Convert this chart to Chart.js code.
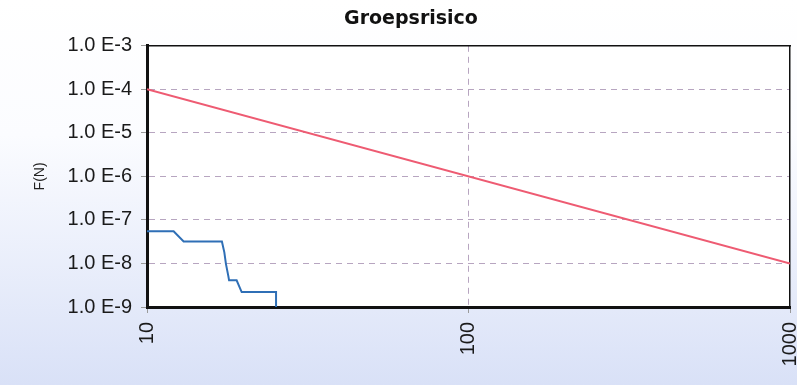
<!DOCTYPE html>
<html>
<head>
<meta charset="utf-8">
<script src="https://cdn.jsdelivr.net/npm/chart.js@4"></script>
<style>
  html, body { margin: 0; padding: 0; background: #ffffff; }
  #wrap { width: 797px; height: 385px; }
</style>
</head>
<body>
<div id="wrap"><canvas id="fn" width="797" height="385"></canvas></div>
<script>
// Tick values on both log axes
const xTickValues = [10, 100, 1000];
const yTickValues = [1e-9, 1e-8, 1e-7, 1e-6, 1e-5, 1e-4, 1e-3];

// Oriëntatiewaarde (norm line): F = 1e-2 / N^2
const normN = [10, 1000];
const normF = [1e-4, 1e-8];

// Calculated group risk curve
const riskN = [10, 12.1, 13, 17.1, 17.4, 17.6, 17.9, 18, 19, 19.7, 25.2, 25.2];
const riskF = [5.5e-8, 5.5e-8, 3.2e-8, 3.2e-8, 1.8e-8, 9.8e-9, 5.2e-9, 4.1e-9, 4.1e-9, 2.2e-9, 2.2e-9, 1e-9];

const toPoints = (xs, ys) => xs.map((x, i) => ({ x: x, y: ys[i] }));

const gridColor = 'rgba(175,155,185,0.9)';
const tickFont = { family: '"Liberation Sans", Arial, sans-serif', size: 20 };

// Page background gradient and white plot area
const backdrop = {
  id: 'backdrop',
  beforeDraw(chart) {
    const { ctx, width, height, chartArea: a } = chart;
    ctx.save();
    const g = ctx.createLinearGradient(0, 0, 0, height);
    g.addColorStop(0, '#ffffff');
    g.addColorStop(0.35, '#fbfcff');
    g.addColorStop(1, '#d9e1f7');
    ctx.fillStyle = g;
    ctx.fillRect(0, 0, width, height);
    ctx.fillStyle = '#ffffff';
    ctx.fillRect(a.left, a.top, a.right - a.left, a.bottom - a.top);
    ctx.restore();
  }
};

new Chart(document.getElementById('fn'), {
  type: 'line',
  data: {
    datasets: [
      {
        label: 'Oriëntatiewaarde',
        data: toPoints(normN, normF),
        borderColor: '#ee5b72',
        borderWidth: 2,
        pointRadius: 0,
        tension: 0
      },
      {
        label: 'Groepsrisico',
        data: toPoints(riskN, riskF),
        borderColor: '#2f6fb6',
        borderWidth: 2,
        pointRadius: 0,
        tension: 0
      }
    ]
  },
  options: {
    responsive: false,
    animation: false,
    events: [],
    layout: { padding: { left: 32, right: 7, top: 0, bottom: 0 } },
    plugins: {
      legend: { display: false },
      tooltip: { enabled: false },
      title: {
        display: true,
        text: 'Groepsrisico',
        color: '#111111',
        font: { family: '"DejaVu Sans", Verdana, sans-serif', size: 19, weight: 'bold' },
        padding: { top: 8, bottom: 15 }
      }
    },
    scales: {
      x: {
        type: 'logarithmic',
        position: 'bottom',
        min: 10,
        max: 1000,
        afterBuildTicks: (s) => { s.ticks = xTickValues.map(v => ({ value: v })); },
        afterFit: (s) => { s.height = 78; s.paddingLeft = 0; s.paddingRight = 0; },
        ticks: {
          autoSkip: false,
          minRotation: 90,
          maxRotation: 90,
          padding: 9,
          color: '#1a1a1a',
          font: tickFont,
          callback: (v) => String(v)
        },
        grid: {
          color: (c) => (c.tick && c.tick.value === 100 ? gridColor : 'rgba(0,0,0,0)'),
          lineWidth: 1,
          tickColor: '#9a9a9a',
          tickLength: 6
        },
        border: { display: true, color: '#111111', width: 3, dash: [6, 5] }
      },
      y: {
        type: 'logarithmic',
        position: 'left',
        min: 1e-9,
        max: 1e-3,
        afterBuildTicks: (s) => { s.ticks = yTickValues.map(v => ({ value: v })); },
        afterFit: (s) => { s.width = 115; },
        ticks: {
          autoSkip: false,
          padding: 9,
          color: '#1a1a1a',
          font: tickFont,
          callback: (v) => '1.0 E' + Math.round(Math.log10(v))
        },
        grid: {
          color: (c) => {
            const v = c.tick ? c.tick.value : 0;
            return (v <= 1.0001e-9 || v >= 0.9999e-3) ? 'rgba(0,0,0,0)' : gridColor;
          },
          lineWidth: 1,
          tickColor: '#9a9a9a',
          tickLength: 6
        },
        border: { display: true, color: '#111111', width: 3, dash: [6, 5] },
        title: {
          display: true,
          text: 'F(N)',
          color: '#222222',
          font: { family: '"Liberation Sans", Arial, sans-serif', size: 14 },
          padding: { top: 0, bottom: 0 }
        }
      },
      xTop: {
        type: 'linear',
        position: 'top',
        display: true,
        ticks: { display: false },
        grid: { display: false, drawTicks: false },
        border: { display: true, color: '#111111', width: 1.5 },
        afterFit: (s) => { s.height = 0; }
      },
      yRight: {
        type: 'linear',
        position: 'right',
        display: true,
        ticks: { display: false },
        grid: { display: false, drawTicks: false },
        border: { display: true, color: '#111111', width: 1.5 },
        afterFit: (s) => { s.width = 0; }
      }
    }
  },
  plugins: [backdrop]
});
</script>
</body>
</html>
